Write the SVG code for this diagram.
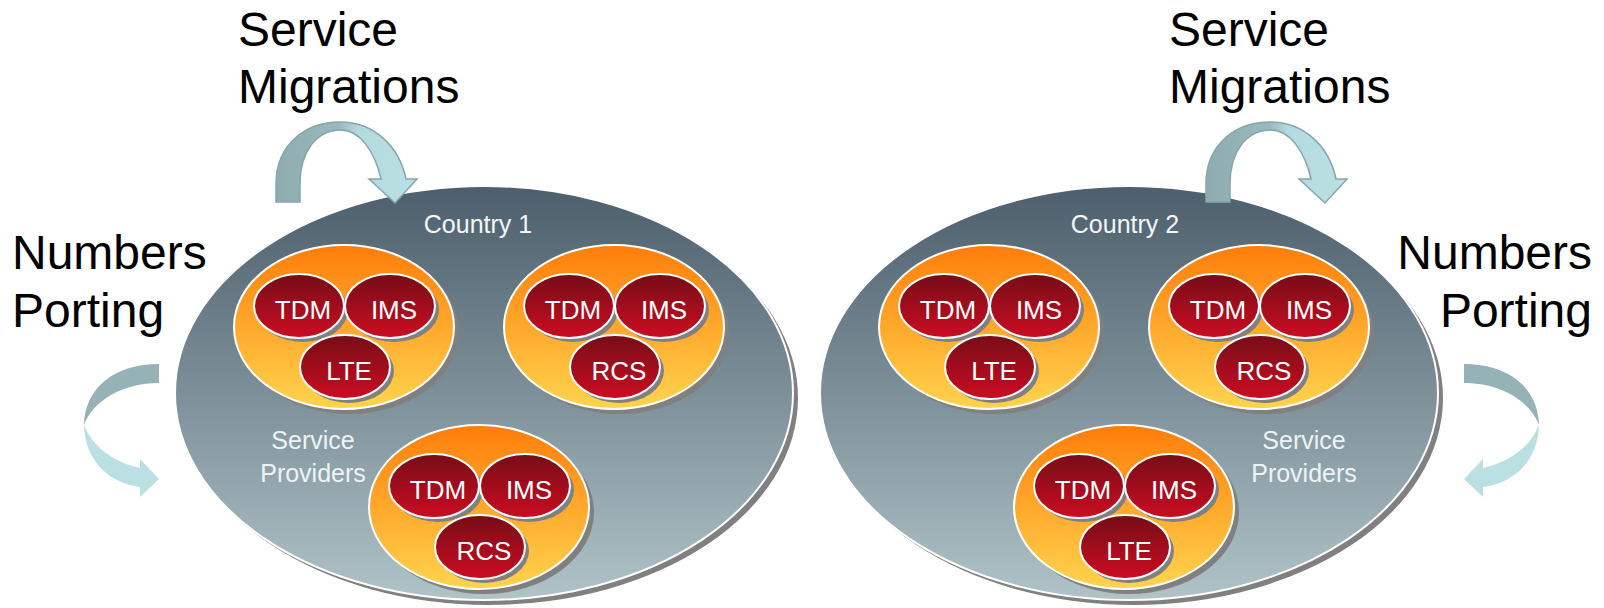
<svg xmlns="http://www.w3.org/2000/svg" width="1604" height="608" viewBox="0 0 1604 608">
<defs>
<linearGradient id="gCountry" x1="0" y1="0" x2="0" y2="1">
<stop offset="0" stop-color="#4d5e6c"/>
<stop offset="0.5" stop-color="#7d9099"/>
<stop offset="1" stop-color="#b0c3c8"/>
</linearGradient>
<linearGradient id="gOrange" x1="0" y1="0" x2="0" y2="1">
<stop offset="0" stop-color="#ff7d0a"/>
<stop offset="1" stop-color="#ffd44e"/>
</linearGradient>
<linearGradient id="gRed" x1="0" y1="0" x2="0" y2="1">
<stop offset="0" stop-color="#760d17"/>
<stop offset="1" stop-color="#cc0c22"/>
</linearGradient>
<linearGradient id="gMig" x1="0" y1="0" x2="1" y2="0">
<stop offset="0" stop-color="#8eacaf"/>
<stop offset="0.45" stop-color="#9ab9bc"/>
<stop offset="0.58" stop-color="#b3dade"/>
<stop offset="1" stop-color="#b9e0e3"/>
</linearGradient>
<style>
.country{fill:url(#gCountry);stroke:#fff;stroke-width:2}
.shadow{fill:#808080}
.sp{fill:url(#gOrange);stroke:#fff;stroke-width:2}
.svc{fill:url(#gRed);stroke:#fff;stroke-width:2}
text{font-family:"Liberation Sans",Arial,sans-serif}
.svc-t{font-size:26px;fill:#fff;text-anchor:middle}
.country-t{font-size:25px;fill:#f4f6f7;text-anchor:middle}
.sp-t{font-size:25px;fill:#eef3f5;text-anchor:middle}
.big{font-size:48px;fill:#000}
.mig{fill:url(#gMig);stroke:#88a6a9;stroke-width:1.5}
.port-dark{fill:#95b3b6}
.port-light{fill:#bbe0e3}
</style>
</defs>
<rect width="1604" height="608" fill="#fff"/>

<g id="country1">
<ellipse class="shadow" cx="489" cy="398" rx="309" ry="207"/>
<ellipse class="country" cx="484" cy="393" rx="309" ry="207"/>
<text class="country-t" x="478" y="233">Country 1</text>
<text class="sp-t" x="313" y="449">Service</text>
<text class="sp-t" x="313" y="482">Providers</text>
</g>

<g id="c1-sp1" transform="translate(344,327)">
<ellipse class="shadow" cx="5" cy="5" rx="110" ry="82"/>
<ellipse class="sp" cx="0" cy="0" rx="110" ry="82"/>
<ellipse class="shadow" cx="-41" cy="-17" rx="45" ry="32"/>
<ellipse class="svc" cx="-45" cy="-21" rx="45" ry="32"/>
<text class="svc-t" x="-41" y="-8">TDM</text>
<ellipse class="shadow" cx="50" cy="-17" rx="45" ry="32"/>
<ellipse class="svc" cx="46" cy="-21" rx="45" ry="32"/>
<text class="svc-t" x="50" y="-8">IMS</text>
<ellipse class="shadow" cx="5" cy="44" rx="45" ry="32"/>
<ellipse class="svc" cx="1" cy="40" rx="45" ry="32"/>
<text class="svc-t" x="5" y="53">LTE</text>
</g>

<g id="c1-sp2" transform="translate(614,327)">
<ellipse class="shadow" cx="5" cy="5" rx="110" ry="82"/>
<ellipse class="sp" cx="0" cy="0" rx="110" ry="82"/>
<ellipse class="shadow" cx="-41" cy="-17" rx="45" ry="32"/>
<ellipse class="svc" cx="-45" cy="-21" rx="45" ry="32"/>
<text class="svc-t" x="-41" y="-8">TDM</text>
<ellipse class="shadow" cx="50" cy="-17" rx="45" ry="32"/>
<ellipse class="svc" cx="46" cy="-21" rx="45" ry="32"/>
<text class="svc-t" x="50" y="-8">IMS</text>
<ellipse class="shadow" cx="5" cy="44" rx="45" ry="32"/>
<ellipse class="svc" cx="1" cy="40" rx="45" ry="32"/>
<text class="svc-t" x="5" y="53">RCS</text>
</g>

<g id="c1-sp3" transform="translate(479,507)">
<ellipse class="shadow" cx="5" cy="5" rx="110" ry="82"/>
<ellipse class="sp" cx="0" cy="0" rx="110" ry="82"/>
<ellipse class="shadow" cx="-41" cy="-17" rx="45" ry="32"/>
<ellipse class="svc" cx="-45" cy="-21" rx="45" ry="32"/>
<text class="svc-t" x="-41" y="-8">TDM</text>
<ellipse class="shadow" cx="50" cy="-17" rx="45" ry="32"/>
<ellipse class="svc" cx="46" cy="-21" rx="45" ry="32"/>
<text class="svc-t" x="50" y="-8">IMS</text>
<ellipse class="shadow" cx="5" cy="44" rx="45" ry="32"/>
<ellipse class="svc" cx="1" cy="40" rx="45" ry="32"/>
<text class="svc-t" x="5" y="53">RCS</text>
</g>

<g id="country2">
<ellipse class="shadow" cx="1134" cy="398" rx="309" ry="207"/>
<ellipse class="country" cx="1129" cy="393" rx="309" ry="207"/>
<text class="country-t" x="1125" y="233">Country 2</text>
<text class="sp-t" x="1304" y="449">Service</text>
<text class="sp-t" x="1304" y="482">Providers</text>
</g>

<g id="c2-sp1" transform="translate(989,327)">
<ellipse class="shadow" cx="5" cy="5" rx="110" ry="82"/>
<ellipse class="sp" cx="0" cy="0" rx="110" ry="82"/>
<ellipse class="shadow" cx="-41" cy="-17" rx="45" ry="32"/>
<ellipse class="svc" cx="-45" cy="-21" rx="45" ry="32"/>
<text class="svc-t" x="-41" y="-8">TDM</text>
<ellipse class="shadow" cx="50" cy="-17" rx="45" ry="32"/>
<ellipse class="svc" cx="46" cy="-21" rx="45" ry="32"/>
<text class="svc-t" x="50" y="-8">IMS</text>
<ellipse class="shadow" cx="5" cy="44" rx="45" ry="32"/>
<ellipse class="svc" cx="1" cy="40" rx="45" ry="32"/>
<text class="svc-t" x="5" y="53">LTE</text>
</g>

<g id="c2-sp2" transform="translate(1259,327)">
<ellipse class="shadow" cx="5" cy="5" rx="110" ry="82"/>
<ellipse class="sp" cx="0" cy="0" rx="110" ry="82"/>
<ellipse class="shadow" cx="-41" cy="-17" rx="45" ry="32"/>
<ellipse class="svc" cx="-45" cy="-21" rx="45" ry="32"/>
<text class="svc-t" x="-41" y="-8">TDM</text>
<ellipse class="shadow" cx="50" cy="-17" rx="45" ry="32"/>
<ellipse class="svc" cx="46" cy="-21" rx="45" ry="32"/>
<text class="svc-t" x="50" y="-8">IMS</text>
<ellipse class="shadow" cx="5" cy="44" rx="45" ry="32"/>
<ellipse class="svc" cx="1" cy="40" rx="45" ry="32"/>
<text class="svc-t" x="5" y="53">RCS</text>
</g>

<g id="c2-sp3" transform="translate(1124,507)">
<ellipse class="shadow" cx="5" cy="5" rx="110" ry="82"/>
<ellipse class="sp" cx="0" cy="0" rx="110" ry="82"/>
<ellipse class="shadow" cx="-41" cy="-17" rx="45" ry="32"/>
<ellipse class="svc" cx="-45" cy="-21" rx="45" ry="32"/>
<text class="svc-t" x="-41" y="-8">TDM</text>
<ellipse class="shadow" cx="50" cy="-17" rx="45" ry="32"/>
<ellipse class="svc" cx="46" cy="-21" rx="45" ry="32"/>
<text class="svc-t" x="50" y="-8">IMS</text>
<ellipse class="shadow" cx="5" cy="44" rx="45" ry="32"/>
<ellipse class="svc" cx="1" cy="40" rx="45" ry="32"/>
<text class="svc-t" x="5" y="53">LTE</text>
</g>

<g id="connectors">
<path id="mig1" class="mig" d="M 276 202 L 276 184 C 276 144 306 122 340 122 C 374 122 399 146 406 179 L 417 179 L 395 203 L 369 179 L 381 179 C 375 152 360 130 341 130 C 316 130 300 152 300 184 L 300 202 Z"/>
<path id="mig2" class="mig" transform="translate(930,0)" d="M 276 202 L 276 184 C 276 144 306 122 340 122 C 374 122 399 146 406 179 L 417 179 L 395 203 L 369 179 L 381 179 C 375 152 360 130 341 130 C 316 130 300 152 300 184 L 300 202 Z"/>
<g id="port1">
<path class="port-dark" d="M 159 364 C 114 364 85 388 84 425 C 93 401 122 383 159 383 Z"/>
<path class="port-light" d="M 84 425 C 85 462 110 483 140 487 L 140 497 L 159 479 L 140 459 L 140 468 C 113 462 93 447 84 425 Z"/>
</g>
<g id="port2" transform="translate(1623,0) scale(-1,1)">
<path class="port-dark" d="M 159 364 C 114 364 85 388 84 425 C 93 401 122 383 159 383 Z"/>
<path class="port-light" d="M 84 425 C 85 462 110 483 140 487 L 140 497 L 159 479 L 140 459 L 140 468 C 113 462 93 447 84 425 Z"/>
</g>
</g>

<g id="label-migrations-1">
<text class="big" x="238" y="46">Service</text>
<text class="big" x="238" y="103">Migrations</text>
</g>
<g id="label-migrations-2">
<text class="big" x="1169" y="46">Service</text>
<text class="big" x="1169" y="103">Migrations</text>
</g>
<g id="label-porting-1">
<text class="big" x="12" y="269">Numbers</text>
<text class="big" x="12" y="327">Porting</text>
</g>
<g id="label-porting-2">
<text class="big" x="1592" y="269" text-anchor="end">Numbers</text>
<text class="big" x="1592" y="327" text-anchor="end">Porting</text>
</g>
</svg>
